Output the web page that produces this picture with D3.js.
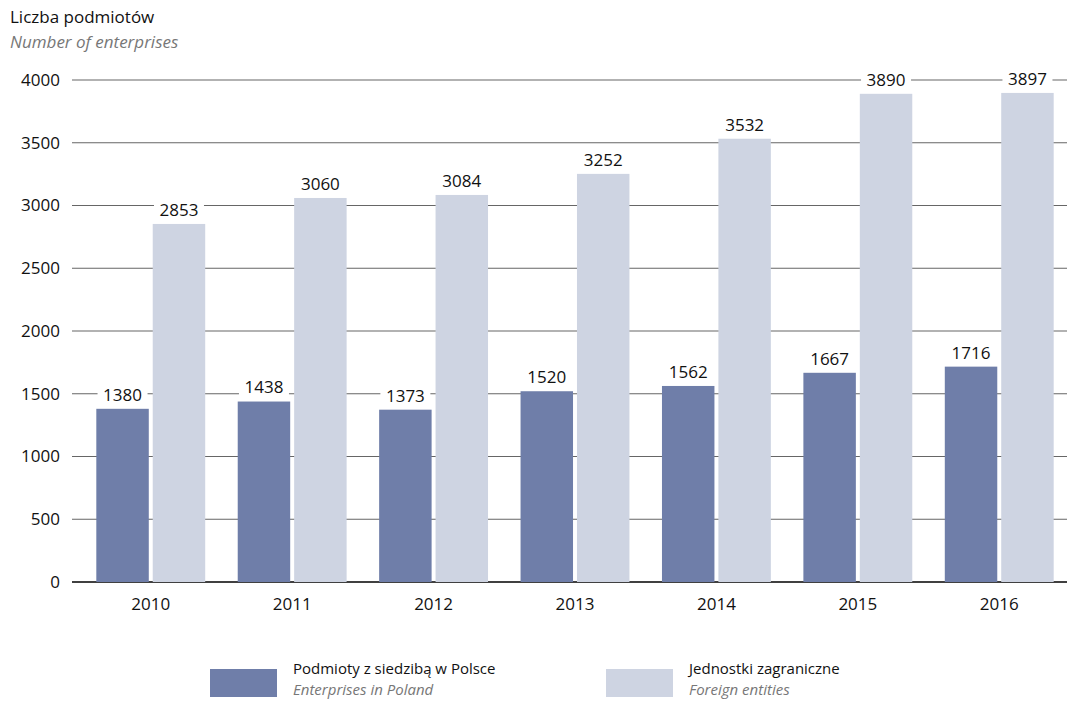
<!DOCTYPE html>
<html>
<head>
<meta charset="utf-8">
<script src="https://cdn.jsdelivr.net/npm/d3@7"></script>
<style>
  body { margin: 0; background: #fff; }
  text { font-family: "Open Sans", "Noto Sans", sans-serif; }
</style>
</head>
<body>
<div id="chart"></div>
<script>
const years = ['2010', '2011', '2012', '2013', '2014', '2015', '2016'];
const poland = [1380, 1438, 1373, 1520, 1562, 1667, 1716];
const foreign = [2853, 3060, 3084, 3252, 3532, 3890, 3897];
const yTicks = [0, 500, 1000, 1500, 2000, 2500, 3000, 3500, 4000];
const seriesNames = [
  ['Podmioty z siedzibą w Polsce', 'Enterprises in Poland'],
  ['Jednostki zagraniczne', 'Foreign entities']
];
const colors = ['#6f7ea9', '#ced4e2'];

const W = 1067, H = 701;
const margin = {top: 80, right: 0, bottom: 119, left: 72};
const width = W - margin.left - margin.right;
const height = H - margin.top - margin.bottom;

const svg = d3.select('#chart').append('svg')
  .attr('width', W)
  .attr('height', H);

// titles
svg.append('text').attr('x', 10).attr('y', 23)
  .style('font-size', '17px').attr('fill', '#111').text('Liczba podmiotów');
svg.append('text').attr('x', 10).attr('y', 48)
  .style('font-size', '17px').style('font-style', 'italic').attr('fill', '#777')
  .text('Number of enterprises');

const g = svg.append('g').attr('transform', `translate(${margin.left},${margin.top})`);

const y = d3.scaleLinear().domain([0, 4000]).range([height, 0]);
const x0 = d3.scaleBand().domain(years).range([13, width - 2]).paddingInner(0.23).paddingOuter(0.08);
const x1 = d3.scaleBand().domain([0, 1]).range([0, x0.bandwidth()]).paddingInner(0.07);

// gridlines
g.selectAll('line.grid').data(yTicks).join('line')
  .attr('x1', 0).attr('x2', width)
  .attr('y1', d => y(d)).attr('y2', d => y(d))
  .attr('stroke', d => d === 0 ? '#000' : '#666')
  .attr('stroke-width', d => d === 0 ? 1.5 : 1.2);

// y axis labels
g.append('g')
  .call(d3.axisLeft(y).tickValues(yTicks).tickFormat(d3.format('d')).tickSize(0).tickPadding(12))
  .call(a => a.select('.domain').remove())
  .selectAll('text')
  .style('font-size', '17px').attr('fill', '#111');

const groups = g.selectAll('g.year').data(years).join('g')
  .attr('transform', d => `translate(${x0(d)},0)`);

const series = [poland, foreign];
series.forEach((vals, s) => {
  groups.append('rect')
    .attr('x', x1(s))
    .attr('y', (d, i) => y(vals[i]))
    .attr('width', x1.bandwidth())
    .attr('height', (d, i) => height - y(vals[i]))
    .attr('fill', colors[s]);

  const lab = groups.append('g')
    .attr('transform', (d, i) => `translate(${x1(s) + x1.bandwidth() / 2},${y(vals[i]) - 14})`);
  lab.append('rect')
    .attr('x', -25).attr('y', -11).attr('width', 50).attr('height', 22)
    .attr('fill', '#fff');
  lab.append('text')
    .attr('text-anchor', 'middle').attr('dy', '0.35em')
    .style('font-size', '17px').attr('fill', '#111')
    .text((d, i) => vals[i]);
});

// x axis labels
g.append('g')
  .attr('transform', `translate(0,${height})`)
  .call(d3.axisBottom(x0).tickSize(0).tickPadding(16))
  .call(a => a.select('.domain').remove())
  .selectAll('text')
  .style('font-size', '17px').attr('fill', '#111');

// legend
const legX = [210, 606];
seriesNames.forEach((n, s) => {
  const lg = svg.append('g').attr('transform', `translate(${legX[s]},669)`);
  lg.append('rect').attr('width', 67).attr('height', 28).attr('fill', colors[s]);
  lg.append('text').attr('x', 83).attr('y', 5)
    .style('font-size', '15px').attr('fill', '#111').text(n[0]);
  lg.append('text').attr('x', 83).attr('y', 26)
    .style('font-size', '15px').style('font-style', 'italic').attr('fill', '#777').text(n[1]);
});
</script>
</body>
</html>
